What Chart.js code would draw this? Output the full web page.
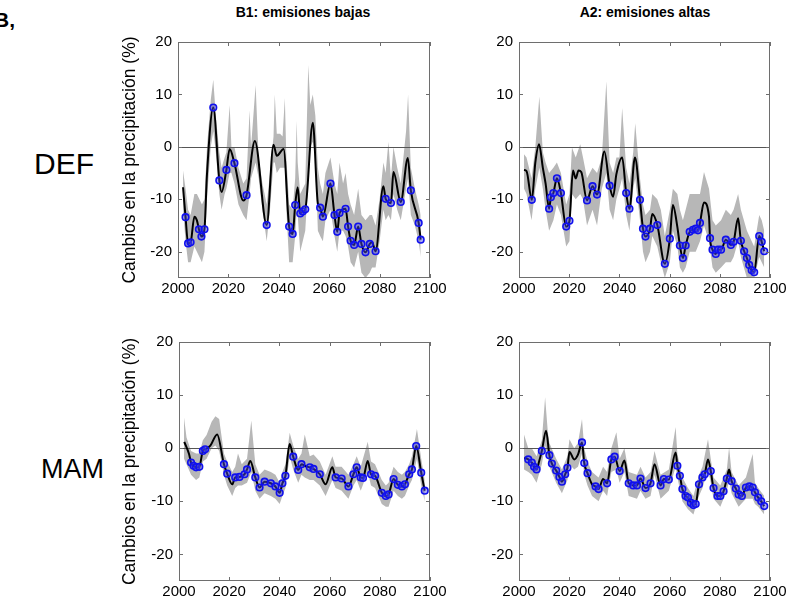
<!DOCTYPE html>
<html>
<head>
<meta charset="utf-8">
<script src="https://cdn.jsdelivr.net/npm/chart.js@4.4.1/dist/chart.umd.min.js"></script>
<style>
  body { margin: 0; background: #fff; overflow: hidden; font-family: "Liberation Sans", Arial, sans-serif; }
  .wrap { position: absolute; }
  .lbl { position: absolute; color: #000; white-space: nowrap; }
  .ttl { font-weight: bold; font-size: 14px; transform: translateX(-50%); }
</style>
</head>
<body>
<div class="lbl" style="left:-6px;top:8px;font-size:21px;font-weight:bold;">B,</div>
<div class="lbl ttl" style="left:303px;top:4px;">B1: emisiones bajas</div>
<div class="lbl ttl" style="left:645px;top:4px;">A2: emisiones altas</div>
<div class="lbl" style="left:34px;top:147px;font-size:30px;">DEF</div>
<div class="lbl" style="left:41px;top:454px;font-size:27px;">MAM</div>

<div class="wrap" style="left:100px;top:0px;width:360px;height:306px;"><canvas id="defB1"></canvas></div>
<div class="wrap" style="left:440px;top:0px;width:360px;height:306px;"><canvas id="defA2"></canvas></div>
<div class="wrap" style="left:100px;top:300px;width:360px;height:306px;"><canvas id="mamB1"></canvas></div>
<div class="wrap" style="left:440px;top:300px;width:360px;height:306px;"><canvas id="mamA2"></canvas></div>

<script>
// ejes
const xTicks = [2000, 2020, 2040, 2060, 2080, 2100];
const yTicks = [-20, -10, 0, 10, 20];

// DEF, B1
const yearsDefB1 = [2002, 2003, 2004, 2005, 2006.5, 2007.5, 2008.3, 2009.3, 2010.5, 2011.5, 2014, 2016.4, 2017.3, 2019.2, 2020.5, 2022.4, 2025.9, 2027.2, 2030.5, 2035.2, 2037.9, 2039.2, 2041.9, 2044.1, 2045.5, 2046.5, 2047.5, 2048.5, 2049.5, 2050.5, 2053.5, 2055.5, 2056.4, 2057.5, 2060.5, 2062.1, 2063.2, 2064.1, 2066.5, 2067.5, 2068.5, 2069.9, 2071.5, 2072.8, 2074.4, 2076.1, 2077, 2078.4, 2081.5, 2082.4, 2084.5, 2085.5, 2088.4, 2091.2, 2092.4, 2095.5, 2096.3];
const meanDefB1 = [-7.7, -13.4, -18.4, -18.2, -13.3, -14.0, -15.7, -17.1, -15.7, -5.2, 7.5, -6.4, -8.6, -4.4, -0.4, -3.1, -10.2, -9.2, 1.1, -14.9, 0.4, -1.7, -0.4, -15.2, -16.6, -11.1, -7.7, -12.7, -12.3, -11.9, 4.6, -10.8, -11.6, -13.3, -7.0, -13.0, -16.2, -12.6, -11.8, -15.2, -17.9, -18.7, -15.2, -18.5, -20.1, -18.5, -18.2, -19.9, -7.5, -9.9, -10.7, -4.8, -10.5, -2.1, -8.3, -14.5, -17.7];
const sigDefB1 = [0, 1, 1, 1, 0, 0, 1, 1, 1, 0, 1, 1, 0, 1, 0, 1, 0, 1, 0, 1, 0, 0, 0, 1, 1, 1, 0, 1, 1, 1, 0, 0, 1, 1, 1, 1, 1, 1, 1, 1, 1, 1, 1, 1, 1, 1, 0, 1, 0, 1, 1, 0, 1, 0, 1, 1, 1];
const bandYearsDefB1 = [2002, 2003, 2004, 2005, 2006.5, 2007.5, 2008.5, 2009.5, 2010.5, 2011.5, 2013, 2014, 2015, 2016.4, 2017.3, 2018.5, 2019.2, 2020.5, 2021.2, 2022.4, 2024, 2025.9, 2027.2, 2028.4, 2029, 2030.8, 2032, 2033.5, 2035.2, 2036.5, 2037.9, 2038.4, 2039.2, 2040.5, 2041.5, 2042.4, 2043, 2044.1, 2045.5, 2046.5, 2047.1, 2047.5, 2048.5, 2049.5, 2050.5, 2051.7, 2052.5, 2053.5, 2054.5, 2055.5, 2056.4, 2057.5, 2058.5, 2060.5, 2062.1, 2063.2, 2064.1, 2065.5, 2066.5, 2067.5, 2068.5, 2069.9, 2071.5, 2072.8, 2074.4, 2076.1, 2077, 2078.4, 2080, 2081.5, 2082.4, 2083.5, 2084.5, 2085.5, 2087, 2088.4, 2090.5, 2091.3, 2092.4, 2094, 2095.5, 2096.3];
const upperDefB1 = [-4.5, -8, -12, -13, -9, -9, -10, -11, -10, 0, 9, 12.8, 6, -1, -4, -2, -1, 8, 0, 0, -4, -7, -6, 7, 0, 11.8, -2, -7, -11, -5, 2, 10, 2.5, 2.5, 2, 9.3, -2, -11, -12, -6, 5, -3, -9, -8, -7, 15.6, 8, 10, 6, -4, -7, -9, -5, -2, -7, -9, -3, -7, -5, -9, -11, -13, -8, -13, -14, -13, -13, -15, -10, -3, -5, 1, -6, 0, -4, -7, 3, 10, -4, -8, -11, -13];
const lowerDefB1 = [-12, -18, -22, -22, -19, -20, -21, -22, -20, -10, 0, 3, -1, -9, -12, -9, -8, -5, -5, -7, -11, -13, -14, -9, -6, -3, -6, -12, -18, -12, -3, -3, -5, -4, -4, -4, -12, -22, -22, -17, -12, -13, -20, -18, -16, -6, 0, 1, -2, -16, -17, -18, -14, -12, -17, -20, -16, -16, -17, -19, -22, -23, -20, -24, -25, -24, -23, -23, -18, -12, -14, -13, -14, -9, -12, -14, -8, -6, -13, -15, -18, -21];

// DEF, A2
const yearsDefA2 = [2002, 2003, 2005.1, 2006.5, 2008, 2009.5, 2010.6, 2012, 2012.7, 2013.7, 2015.1, 2016.7, 2018.8, 2020.1, 2021.5, 2022.6, 2023.7, 2024.8, 2027.1, 2029.3, 2031.1, 2034, 2036.1, 2037.5, 2038.8, 2041.1, 2042.7, 2044, 2046.2, 2048.2, 2049.4, 2050.4, 2052.2, 2053.1, 2055.1, 2058.1, 2060.1, 2061.3, 2063.1, 2064.1, 2065.3, 2066.4, 2068, 2069.3, 2070.4, 2071.3, 2072.1, 2073.7, 2075.7, 2076.1, 2077.1, 2078.4, 2079.3, 2080.5, 2082.4, 2084.4, 2085.5, 2087.3, 2088.4, 2089.7, 2090.8, 2091.7, 2092.7, 2093.7, 2095.7, 2096.7, 2097.7];
const meanDefA2 = [-4.4, -4.6, -10.1, -3, 0.5, -4, -7, -11.8, -9.6, -8.8, -6.0, -8.8, -15.2, -14.1, -4.5, -6.0, -4.5, -4.8, -10.2, -7.5, -9.1, -0.9, -7.4, -9.5, -5.2, -2.0, -8.8, -11.8, -2.0, -10.1, -15.6, -17.1, -15.6, -12.8, -14.9, -22.3, -17.5, -11.1, -15.3, -18.8, -21.2, -18.8, -16.2, -15.8, -15.6, -15.9, -14.5, -10.6, -13.3, -17.4, -19.6, -20.4, -19.6, -19.6, -17.7, -18.7, -18.1, -13.6, -17.9, -19.9, -21.2, -22.5, -23.5, -23.9, -17.0, -18.1, -19.9];
const sigDefA2 = [0, 0, 1, 0, 0, 0, 0, 1, 1, 1, 1, 1, 1, 1, 0, 0, 0, 0, 1, 1, 1, 0, 1, 0, 0, 0, 1, 1, 0, 1, 1, 1, 1, 0, 1, 1, 1, 0, 0, 1, 1, 1, 1, 1, 1, 1, 1, 0, 0, 1, 1, 1, 1, 1, 1, 1, 1, 0, 1, 1, 1, 1, 1, 1, 1, 1, 1];
const bandYearsDefA2 = [2002, 2003, 2005, 2006.5, 2008.1, 2009.5, 2010.6, 2012, 2013.7, 2015.1, 2016.7, 2018.8, 2020.1, 2021.1, 2022.6, 2024.4, 2025.5, 2027.1, 2029.3, 2031.1, 2033, 2034.8, 2036.1, 2037.5, 2038.8, 2040, 2041.1, 2042.7, 2044, 2045.5, 2046.3, 2048.2, 2049.4, 2050.4, 2052.2, 2053.1, 2055.1, 2056.5, 2058.1, 2060.1, 2061.3, 2063.1, 2064.1, 2065.3, 2066.4, 2068, 2070.4, 2072.1, 2073.7, 2075.7, 2077.1, 2078.4, 2080.5, 2082.4, 2084.4, 2085.5, 2087.3, 2088.4, 2090.8, 2092.7, 2093.7, 2095.7, 2096.7, 2097.7];
const upperDefA2 = [-1.4, -2, -6, 0, 9.6, -1, -3, -5, -4, -3, -5, -11, -9, -0.1, -2, 0.5, -2, -6, -4, -5, -2, 12.5, -3, -5, -2, -2, 7.4, -4, -7, -1, 4.5, -6, -11, -13, -12, -9, -10, -12, -17, -12, -8, -9, -12, -14, -12, -9, -9, -9, -4.8, -8, -14, -15, -14, -12, -13, -12, -9, -12, -16, -18, -19, -13, -14, -16];
const lowerDefA2 = [-8, -9, -14, -8, -4, -8, -12, -16, -14, -11, -13, -19, -18, -9, -10, -9, -10, -15, -12, -15, -8, -5, -12, -14, -10, -8, -6, -13, -16, -8, -6, -14, -20, -22, -20, -17, -19, -22, -25, -22, -16, -19, -23, -24, -23, -20, -20, -18, -15, -18, -23, -24, -23, -22, -22, -21, -18, -21, -25, -25, -25, -21, -22, -23];

// MAM, B1
const yearsMamB1 = [2002.1, 2004, 2004.8, 2005.8, 2006.8, 2008.1, 2009.5, 2010.4, 2012.5, 2015.2, 2017.9, 2019.2, 2021.2, 2022.4, 2024.1, 2026.1, 2027.1, 2028.4, 2030.4, 2032.1, 2034.1, 2036.6, 2038.4, 2040.1, 2041.2, 2042.4, 2044.1, 2045.5, 2047.5, 2048.8, 2050.5, 2052.1, 2053.6, 2056.1, 2058.4, 2061.1, 2062.4, 2064.8, 2067.5, 2069.5, 2070.8, 2072.4, 2073.3, 2075.2, 2076.5, 2078.1, 2080.8, 2082.4, 2083.5, 2085.5, 2087.2, 2088.8, 2090, 2091.7, 2092.8, 2094.5, 2096.5, 2097.9];
const meanMamB1 = [1.2, -1.1, -2.7, -3.3, -3.6, -3.5, -0.5, -0.2, 0.5, 2.6, -3.0, -4.8, -6.8, -5.5, -5.4, -4.9, -4.0, -2.4, -5.5, -7.4, -6.3, -6.6, -7.2, -8.4, -6.6, -5.2, 0.8, -1.6, -4.1, -3.0, -3.4, -3.6, -3.9, -4.9, -6.8, -3.6, -5.5, -5.7, -7.2, -4.9, -3.6, -5.5, -5.6, -2.4, -4.9, -5.2, -8.4, -9.0, -8.7, -5.8, -6.9, -7.2, -6.8, -4.9, -4.0, 0.4, -4.6, -8.0];
const sigMamB1 = [0, 0, 1, 1, 1, 1, 1, 1, 0, 0, 1, 1, 0, 1, 1, 1, 1, 0, 1, 1, 1, 1, 1, 1, 1, 1, 0, 1, 1, 1, 0, 1, 1, 1, 0, 0, 1, 1, 1, 1, 1, 1, 1, 0, 1, 1, 1, 1, 1, 1, 1, 1, 1, 1, 1, 1, 1, 1];
const bandYearsMamB1 = [2002, 2003, 2004.8, 2006.8, 2008.1, 2009.5, 2011, 2013, 2014.5, 2016, 2017.9, 2019.2, 2021.2, 2022.4, 2023.5, 2025, 2027.1, 2028.8, 2030.4, 2032.1, 2034.1, 2036.6, 2038.4, 2040.1, 2041.2, 2042.4, 2044.1, 2045.5, 2047.5, 2048.8, 2050.1, 2052.1, 2053.6, 2056.1, 2058.4, 2061.1, 2062.4, 2064.8, 2067.5, 2069.5, 2070.8, 2072.4, 2075.2, 2076.5, 2078.1, 2080.8, 2082.4, 2083.5, 2085.5, 2087.2, 2088.8, 2090, 2091.7, 2092.8, 2094.8, 2096.5, 2097.9];
const upperMamB1 = [5.8, 2, -0.5, -1, -1, 1.5, 2.5, 5, 6, 5.5, -1, -2.5, -4.5, -3.5, -1, -3, -2, 5.2, -3, -5, -4, -4.5, -5, -6.5, -4.5, -3, 2.9, 0.5, -2, -1, 2.6, -1.5, -1.2, -2.5, -5, -1.5, -3.5, -3.5, -5, -3, -1.5, -3.5, 1.2, -2.5, -3, -6, -7, -6.5, -3.5, -4.5, -5, -4.5, -3, -1.5, 3.6, -2, -6];
const lowerMamB1 = [-2, -3, -5, -6, -5.5, -2.5, -2, 0, 0.5, -0.5, -5, -7, -9, -7.5, -7, -7, -6.5, -4.5, -8, -9.5, -8.5, -9, -9.5, -10.5, -9, -7.5, -1.5, -4, -6.5, -5, -5.5, -6, -6, -7, -9, -6, -7.5, -8, -9.5, -7, -6, -8, -4.5, -7, -7.5, -10.5, -11, -11, -8, -9, -9.5, -9, -7, -6, -2, -7, -10];

// MAM, A2
const yearsMamA2 = [2002.1, 2003.7, 2005.1, 2006, 2007, 2008, 2009.1, 2010.8, 2012.1, 2013.1, 2014.8, 2016.1, 2017.1, 2018.4, 2019.3, 2020.1, 2022, 2023.5, 2025.1, 2026, 2027.3, 2029.1, 2030.5, 2031.7, 2033.5, 2035.1, 2036.8, 2038.1, 2040.1, 2042, 2043.7, 2045.5, 2047, 2048.4, 2050.4, 2052.4, 2054, 2056.4, 2057.7, 2059.7, 2062.4, 2063.1, 2064.1, 2065.1, 2066.4, 2067.3, 2068.5, 2069.5, 2070.4, 2071.7, 2073.1, 2074, 2075.3, 2076.4, 2077.5, 2079.1, 2080.2, 2081.5, 2082.8, 2083.7, 2084.7, 2086.4, 2087.5, 2088.8, 2090.4, 2091.8, 2093.1, 2094, 2095.3, 2096.5, 2097.7];
const meanMamA2 = [-1.8, -2.1, -2.7, -3.5, -4.0, -2.5, -0.5, 3.3, -1.3, -2.9, -4.2, -5.4, -6.3, -4.9, -3.7, -0.7, -2.1, -1.2, 1.1, -2.8, -4.7, -6.8, -7.2, -7.7, -5.8, -6.6, -2.1, -1.6, -4.3, -2.3, -6.6, -7.0, -7.0, -5.7, -7.5, -6.6, -3.0, -7.0, -5.8, -5.9, -0.8, -3.3, -5.2, -7.7, -9.0, -9.3, -10.3, -10.7, -10.5, -6.8, -5.5, -4.9, -2.1, -4.3, -7.5, -9.0, -9.0, -8.1, -5.7, -4.0, -6.2, -7.6, -8.7, -9.0, -7.4, -7.2, -7.4, -8.3, -9.3, -10.0, -10.9];
const sigMamA2 = [0, 1, 1, 1, 1, 0, 1, 0, 1, 1, 1, 1, 1, 1, 1, 0, 0, 0, 1, 1, 1, 0, 1, 1, 0, 1, 1, 1, 1, 0, 1, 1, 1, 1, 1, 1, 0, 1, 1, 1, 0, 1, 1, 1, 1, 1, 1, 1, 1, 1, 1, 1, 0, 1, 1, 1, 1, 1, 1, 0, 1, 1, 1, 1, 1, 1, 1, 1, 1, 1, 1];
const bandYearsMamA2 = [2002, 2003.7, 2005.1, 2007, 2009.1, 2010.4, 2011.5, 2012.1, 2014.8, 2017.1, 2019.3, 2020.1, 2022, 2023.5, 2025.1, 2026, 2027.3, 2029.1, 2031.7, 2033.5, 2035.1, 2036.8, 2038.8, 2040.1, 2042, 2043.7, 2047, 2048.4, 2050.4, 2052.4, 2054, 2056.4, 2059.7, 2062.4, 2063.1, 2065.1, 2067.3, 2069.5, 2071.7, 2073.1, 2075.3, 2076.4, 2077.5, 2080.2, 2082.8, 2083.7, 2084.7, 2087.5, 2090.4, 2093.1, 2094, 2095.3, 2097.7];
const upperMamA2 = [2.6, 0, 0, -1.5, 1.5, 9.6, 3, 1, -2, -4, -1.5, 1.7, 0, 1, 5.5, 0, -2.5, -4.5, -5.5, -3.5, -4.5, 0, 3, -2, 0, -4.5, -5, -3.5, -5.5, -4.5, -0.5, -5, -4, 4, -1, -5.5, -7.5, -9, -5, -3.5, 1.7, -2, -5.5, -7, -4, 0.2, -4.5, -7, -5.5, -1.1, -6.5, -7.5, -9];
const lowerMamA2 = [-4, -4.5, -5, -6.5, -3, 0.5, -2, -3.5, -6.5, -8.5, -6, -3, -4, -3.5, -1, -5, -7, -9, -10, -8, -9, -4.5, -4, -6.5, -4.5, -9, -9.5, -8, -9.5, -9, -5, -9.5, -8, -3.5, -5.5, -10, -11.5, -12.5, -9, -7.5, -4, -6.5, -9.5, -11, -8, -6, -8.5, -11, -9.5, -9.5, -10.5, -11, -12.5];

const FONT = '"Liberation Sans", Arial, sans-serif';

function pts(xs, ys) {
    return xs.map((x, i) => ({ x: x, y: ys[i] }));
}

// marco tipo matlab: caja, marcas hacia dentro y linea de cero
const marco = {
    id: 'marco',
    afterDatasetDraw(chart, args) {
        if (args.index !== 0) return; // justo despues de la banda gris
        const { ctx, chartArea: a, scales: { y } } = chart;
        const y0 = Math.round(y.getPixelForValue(0)) + 0.5;
        ctx.save();
        ctx.strokeStyle = '#555';
        ctx.lineWidth = 1;
        ctx.beginPath();
        ctx.moveTo(a.left, y0);
        ctx.lineTo(a.right, y0);
        ctx.stroke();
        ctx.restore();
    },
    afterDraw(chart) {
        const { ctx, chartArea: a, scales: { x, y } } = chart;
        ctx.save();
        ctx.strokeStyle = '#6e6e6e';
        ctx.lineWidth = 1;
        ctx.strokeRect(a.left + 0.5, a.top + 0.5, a.right - a.left - 1, a.bottom - a.top - 1);
        ctx.beginPath();
        x.ticks.forEach(t => {
            const px = Math.round(x.getPixelForValue(t.value)) + 0.5;
            ctx.moveTo(px, a.bottom); ctx.lineTo(px, a.bottom - 4);
            ctx.moveTo(px, a.top); ctx.lineTo(px, a.top + 4);
        });
        y.ticks.forEach(t => {
            const py = Math.round(y.getPixelForValue(t.value)) + 0.5;
            ctx.moveTo(a.left, py); ctx.lineTo(a.left + 4, py);
            ctx.moveTo(a.right, py); ctx.lineTo(a.right - 4, py);
        });
        ctx.stroke();
        ctx.restore();
    }
};

function panel(id, years, mean, sig, bandYears, upper, lower, cfg) {
    const ctx = document.getElementById(id).getContext('2d');
    return new Chart(ctx, {
        type: 'line',
        data: {
            datasets: [
                {
                    data: pts(bandYears, upper),
                    order: 1,
                    borderWidth: 0,
                    pointRadius: 0,
                    backgroundColor: 'rgb(183,183,183)',
                    fill: '+1',
                    tension: 0
                },
                {
                    data: pts(bandYears, lower),
                    order: 2,
                    borderWidth: 0,
                    pointRadius: 0,
                    fill: false,
                    tension: 0
                },
                {
                    data: pts(years, mean),
                    order: 0,
                    borderColor: '#000',
                    borderWidth: 2,
                    cubicInterpolationMode: 'monotone',
                    fill: false,
                    pointRadius: sig.map(s => s ? 3.3 : 0),
                    pointBorderColor: '#1010ee',
                    pointBackgroundColor: 'rgba(70,70,230,0.45)',
                    pointBorderWidth: 1.6
                }
            ]
        },
        options: {
            responsive: true,
            maintainAspectRatio: false,
            animation: false,
            events: [],
            layout: { padding: { top: 42, right: 30, bottom: 0, left: 0 } },
            plugins: { legend: { display: false }, tooltip: { enabled: false } },
            scales: {
                x: {
                    type: 'linear',
                    min: 2000,
                    max: 2100,
                    grid: { display: false, drawTicks: false },
                    border: { display: false },
                    afterBuildTicks: s => { s.ticks = xTicks.map(v => ({ value: v })); },
                    afterFit: s => { s.height = cfg.xh; },
                    ticks: {
                        padding: 2,
                        color: '#000',
                        maxRotation: 0,
                        font: { family: FONT, size: 15 },
                        callback: v => String(v)
                    }
                },
                y: {
                    min: -25,
                    max: 20,
                    grid: { display: false, drawTicks: false },
                    border: { display: false },
                    afterBuildTicks: s => { s.ticks = yTicks.map(v => ({ value: v })); },
                    afterFit: s => { s.width = cfg.yw; },
                    ticks: {
                        padding: 6,
                        color: '#000',
                        font: { family: FONT, size: 15 },
                        callback: v => String(v)
                    },
                    title: {
                        display: cfg.titulo,
                        text: 'Cambios en la precipitación (%)',
                        color: '#000',
                        font: { family: FONT, size: 17.5 },
                        padding: { top: 20, bottom: 0 }
                    }
                }
            }
        },
        plugins: [marco]
    });
}

panel('defB1', yearsDefB1, meanDefB1, sigDefB1, bandYearsDefB1, upperDefB1, lowerDefB1, { yw: 78, xh: 28, titulo: true });
panel('defA2', yearsDefA2, meanDefA2, sigDefA2, bandYearsDefA2, upperDefA2, lowerDefA2, { yw: 79, xh: 28, titulo: false });
panel('mamB1', yearsMamB1, meanMamB1, sigMamB1, bandYearsMamB1, upperMamB1, lowerMamB1, { yw: 79, xh: 25, titulo: true });
panel('mamA2', yearsMamA2, meanMamA2, sigMamA2, bandYearsMamA2, upperMamA2, lowerMamA2, { yw: 79, xh: 25, titulo: false });
</script>
</body>
</html>
